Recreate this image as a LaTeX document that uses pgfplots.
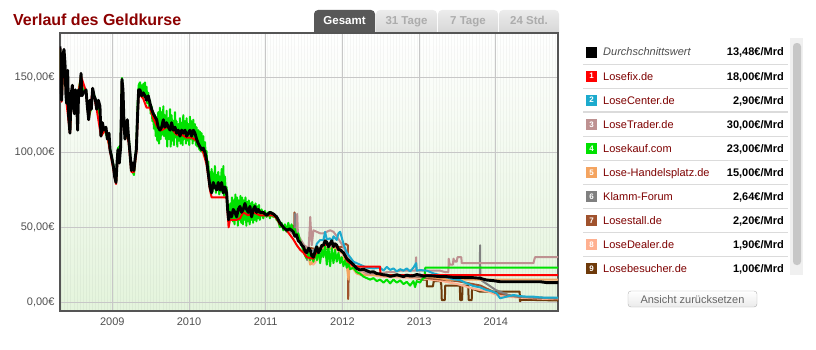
\documentclass[border=0pt]{standalone}
\usepackage{pgfplots}
\pgfplotsset{compat=1.18}
\usepackage{fontspec}
\setmainfont{Liberation Sans}
\definecolor{titlered}{RGB}{140,0,0}
\definecolor{namered}{RGB}{125,0,0}
\definecolor{framegray}{RGB}{85,85,85}
\definecolor{ticklab}{RGB}{80,80,80}
\definecolor{bggreen}{RGB}{228,244,220}
\definecolor{tabdark}{RGB}{88,88,88}
\definecolor{tabtop}{RGB}{236,236,236}
\definecolor{tabbot}{RGB}{214,214,214}
\definecolor{tabtext}{RGB}{172,172,172}
\definecolor{cfix}{RGB}{255,0,0}
\definecolor{ccenter}{RGB}{28,170,205}
\definecolor{ctrader}{RGB}{190,145,145}
\definecolor{ckauf}{RGB}{0,225,0}
\definecolor{chandel}{RGB}{244,164,96}
\definecolor{cklamm}{RGB}{128,128,128}
\definecolor{cstall}{RGB}{160,82,45}
\definecolor{cdealer}{RGB}{255,176,144}
\definecolor{cbesuch}{RGB}{110,58,10}
\begin{document}
\begin{tikzpicture}
\path[use as bounding box] (0pt,0pt) rectangle (816pt,349pt);
% title
\node[anchor=base west, font=\bfseries\fontsize{16}{19}\selectfont, text=titlered, inner sep=0pt] at (13pt,323.3pt) {Verlauf des Geldkurse};
% tabs
\fill[tabdark] (314pt,316pt) [rounded corners=4pt] -- (314pt,339pt) -- (375pt,339pt) [sharp corners] -- (375pt,316pt) -- cycle;
\shade[top color=tabtop, bottom color=tabbot] (376pt,316pt) [rounded corners=4pt] -- (376pt,339pt) -- (437pt,339pt) [sharp corners] -- (437pt,316pt) -- cycle;
\shade[top color=tabtop, bottom color=tabbot] (438pt,316pt) [rounded corners=4pt] -- (438pt,339pt) -- (498pt,339pt) [sharp corners] -- (498pt,316pt) -- cycle;
\shade[top color=tabtop, bottom color=tabbot] (499pt,316pt) [rounded corners=4pt] -- (499pt,339pt) -- (559pt,339pt) [sharp corners] -- (559pt,316pt) -- cycle;
\node[anchor=base, font=\bfseries\fontsize{11.5}{13}\selectfont, text=white, inner sep=0pt] at (344.5pt,324.5pt) {Gesamt};
\node[anchor=base, font=\bfseries\fontsize{11.5}{13}\selectfont, text=tabtext, inner sep=0pt] at (406.5pt,324.5pt) {31 Tage};
\node[anchor=base, font=\bfseries\fontsize{11.5}{13}\selectfont, text=tabtext, inner sep=0pt] at (468pt,324.5pt) {7 Tage};
\node[anchor=base, font=\bfseries\fontsize{11.5}{13}\selectfont, text=tabtext, inner sep=0pt] at (529pt,324.5pt) {24 Std.};

\begin{axis}[
  at={(60pt,38pt)}, anchor=south west, scale only axis,
  width=498pt, height=278pt,
  xmin=2008.318, xmax=2014.81, ymin=-6, ymax=180,
  xtick={2009,2010,2011,2012,2013,2014},
  xticklabels={2009,2010,2011,2012,2013,2014},
  ytick={0,50,100,150},
  yticklabels={{0,00€},{50,00€},{100,00€},{150,00€}},
  minor xtick={2008.34,2008.38,...,2014.8},
  grid=both,
  major grid style={draw=black!22, line width=0.8pt},
  minor grid style={draw=black, opacity=0.035, line width=0.8pt},
  major tick length=0pt, minor tick length=0pt,
  tick style={draw=none},
  tick label style={font=\fontsize{11}{13}\selectfont, text=ticklab},
  xticklabel style={yshift=-3pt},
  yticklabel style={xshift=-2pt},
  axis line style={draw=framegray, line width=2.6pt},
  axis background/.style={shade, top color=white, bottom color=bggreen},
  every axis plot/.append style={no marks, line join=round, line width=2pt},
]
% 9 Losebesucher
\addplot[cbesuch] coordinates {(2012.95,16) (2013.05,15) (2013.099,15) (2013.10,10.5) (2013.18,10.5) (2013.19,14) (2013.28,14) (2013.29,11) (2013.295,1.3) (2013.335,1.3) (2013.34,11) (2013.53,11) (2013.535,1.3) (2013.56,1.3) (2013.565,11) (2013.64,11) (2013.645,1.3) (2013.685,1.3) (2013.69,9) (2013.79,7) (2014.31,7) (2014.315,0.5) (2014.33,1.5) (2014.6,1.3) (2014.819,1.0)};
% 8 LoseDealer
\addplot[cdealer] coordinates {(2011.50,34) (2011.55,30) (2011.62,25) (2011.75,33) (2012.0,30) (2012.1,24) (2012.2,20) (2012.5,17) (2013.0,16) (2013.3,14) (2013.5,12) (2013.7,9) (2013.9,7) (2014.05,4) (2014.3,3) (2014.6,2.2) (2014.819,1.9)};
% 7 Losestall
\addplot[cstall] coordinates {(2011.30,49) (2011.37,47) (2011.375,60) (2011.38,47) (2011.50,37) (2011.70,35) (2012.00,37) (2012.04,39) (2012.07,38) (2012.075,2) (2012.085,30) (2012.15,24) (2012.30,20) (2012.60,18) (2013.00,17) (2013.10,16) (2013.50,14) (2013.80,11) (2014.00,6) (2014.30,3.5) (2014.819,2.2)};
% 6 Klamm-Forum
\addplot[cklamm] coordinates {(2011.30,49) (2011.38,44) (2011.383,59) (2011.39,44) (2011.50,37) (2011.54,28) (2011.56,34) (2011.90,37) (2012.00,33) (2012.10,26) (2012.30,20) (2012.60,18) (2013.00,17) (2013.60,16) (2013.790,16) (2013.794,38) (2013.798,15) (2014.00,8) (2014.20,4) (2014.50,3) (2014.819,2.64)};
% 5 Lose-Handelsplatz
\addplot[chandel] coordinates {(2011.45,40) (2011.55,33) (2011.579,25) (2011.62,27) (2011.66,33) (2011.75,36) (2011.90,36) (2012.013,32) (2012.056,25) (2012.078,15) (2012.09,22) (2012.10,26) (2012.143,22) (2012.187,19) (2012.25,18) (2012.578,18) (2012.838,18) (2013.012,18) (2013.099,17) (2013.273,16) (2013.360,15) (2014.819,15)};
% 3 LoseTrader
\addplot[ctrader] coordinates {(2011.30,48) (2011.40,44) (2011.41,59) (2011.42,45) (2011.50,38) (2011.56,36) (2011.58,57) (2011.60,38) (2011.622,48) (2011.709,46) (2011.752,46) (2011.839,48) (2011.883,47) (2011.926,44) (2012.013,37) (2012.056,32) (2012.143,25) (2012.230,22) (2012.317,19) (2012.491,19) (2012.578,20) (2012.665,20) (2012.752,21) (2012.925,21) (2012.955,21) (2012.960,30) (2012.965,21) (2013.099,21) (2013.273,21) (2013.340,20) (2013.381,20) (2013.385,29) (2013.40,25) (2013.44,25) (2013.447,29) (2013.47,27) (2013.49,27) (2013.50,30) (2013.55,30) (2013.555,26) (2014.49,26) (2014.51,30) (2014.819,30)};
% 4 Losekauf
\addplot[ckauf] coordinates {(2008.318,169) (2008.340,137) (2008.370,167) (2008.405,134) (2008.431,126) (2008.448,115) (2008.479,145) (2008.505,127) (2008.535,136) (2008.561,142) (2008.592,151) (2008.622,140) (2008.657,142) (2008.692,123) (2008.726,130) (2008.744,142) (2008.778,136) (2008.818,133) (2008.852,112) (2008.891,116) (2008.935,110) (2008.970,103) (2009.013,92) (2009.048,81) (2009.074,103) (2009.109,105) (2009.126,150) (2009.152,118) (2009.182,110) (2009.213,111) (2009.248,89) (2009.282,85) (2009.313,104) (2009.330,132) (2009.343,145)
(2009.361,147) (2009.370,140) (2009.382,145) (2009.390,139) (2009.404,146) (2009.412,137) (2009.426,147) (2009.439,137) (2009.447,144) (2009.455,133) (2009.469,140) (2009.478,131) (2009.491,135) (2009.500,126) (2009.513,131) (2009.522,121) (2009.534,127) (2009.542,116) (2009.556,125) (2009.565,111) (2009.578,123) (2009.586,108) (2009.599,127) (2009.609,106) (2009.621,130) (2009.630,109) (2009.643,127) (2009.655,112) (2009.665,131) (2009.674,111) (2009.686,125) (2009.699,109) (2009.708,128) (2009.716,104) (2009.730,123) (2009.739,109) (2009.752,129) (2009.761,104) (2009.773,125) (2009.786,108) (2009.795,121) (2009.803,105) (2009.817,127) (2009.830,110) (2009.838,121) (2009.847,104) (2009.860,119) (2009.873,108) (2009.882,123) (2009.890,106) (2009.904,120) (2009.917,105) (2009.925,125) (2009.934,109) (2009.947,121) (2009.960,106) (2009.969,123) (2009.977,108) (2009.990,119) (2010.003,105) (2010.012,124) (2010.020,109) (2010.034,121) (2010.047,106) (2010.056,122) (2010.064,108) (2010.077,119) (2010.090,105) (2010.099,117) (2010.108,104) (2010.121,115) (2010.134,102) (2010.142,114) (2010.151,101) (2010.164,113) (2010.177,100) (2010.186,111) (2010.195,98) (2010.208,107) (2010.221,95) (2010.229,101) (2010.238,89) (2010.251,94) (2010.264,81) (2010.273,87) (2010.282,75) (2010.295,89) (2010.308,74) (2010.316,86) (2010.325,76) (2010.338,91) (2010.351,73) (2010.360,85) (2010.369,75) (2010.381,87) (2010.394,72) (2010.403,84) (2010.412,74) (2010.425,89) (2010.438,73) (2010.447,91) (2010.456,71) (2010.468,84) (2010.481,72) (2010.490,77) (2010.503,65) (2010.516,58) (2010.527,55) (2010.538,66) (2010.549,56) (2010.560,70) (2010.571,54) (2010.582,68) (2010.593,52) (2010.604,72) (2010.615,55) (2010.626,70) (2010.637,51) (2010.648,68) (2010.659,55) (2010.670,71) (2010.681,53) (2010.692,70) (2010.703,52) (2010.714,68) (2010.725,55) (2010.736,70) (2010.747,51) (2010.758,67) (2010.769,54) (2010.780,68) (2010.791,52) (2010.802,66) (2010.813,55) (2010.824,67) (2010.835,53) (2010.846,65) (2010.857,55) (2010.868,66) (2010.879,54) (2010.890,64) (2010.901,56) (2010.912,65) (2010.923,55) (2010.946,62) (2010.968,56) (2010.990,61) (2011.011,57) (2011.033,60) (2011.055,56) (2011.077,60) (2011.098,57) (2011.120,58) (2011.142,55) (2011.164,54) (2011.185,50) (2011.207,53) (2011.229,48) (2011.250,52) (2011.272,47) (2011.294,53) (2011.315,48) (2011.337,52) (2011.359,46) (2011.380,49) (2011.402,44) (2011.424,46) (2011.446,41)
(2011.470,38) (2011.492,34) (2011.513,31) (2011.535,29) (2011.557,33) (2011.579,28) (2011.600,32) (2011.622,27) (2011.644,34) (2011.666,28) (2011.687,36) (2011.709,26) (2011.731,35) (2011.752,30) (2011.774,38) (2011.796,25) (2011.817,37) (2011.839,24) (2011.861,36) (2011.883,26) (2011.904,35) (2011.926,27) (2011.948,33) (2011.970,26) (2011.991,30) (2012.013,24) (2012.035,28) (2012.056,23) (2012.078,26) (2012.100,22) (2012.143,23) (2012.187,20) (2012.230,19) (2012.274,17) (2012.317,16) (2012.361,15) (2012.404,16) (2012.448,14) (2012.491,15) (2012.535,13) (2012.578,15) (2012.622,12.5) (2012.665,15) (2012.709,13) (2012.752,14.5) (2012.796,12) (2012.838,13.5) (2012.882,11) (2012.925,14) (2012.947,10) (2012.968,14) (2013.012,13) (2013.034,15) (2013.056,16) (2013.070,16) (2013.080,23) (2014.819,23)};
% 2 LoseCenter
\addplot[ccenter] coordinates {(2011.622,31) (2011.666,39) (2011.709,41.5) (2011.752,41.5) (2011.774,47) (2011.796,42) (2011.839,42.6) (2011.861,40) (2011.883,44) (2011.926,41.5) (2011.948,46) (2011.970,47) (2012.013,39) (2012.056,33) (2012.100,30) (2012.143,27) (2012.230,25) (2012.317,23) (2012.404,22.5) (2012.491,23) (2012.535,21) (2012.578,23.5) (2012.622,21.5) (2012.665,22.5) (2012.709,20.5) (2012.752,22) (2012.796,21) (2012.838,22.5) (2012.882,20.5) (2012.925,23) (2012.960,26) (2012.970,21) (2013.012,21.4) (2013.099,21) (2013.186,19.2) (2013.273,18) (2013.360,16.5) (2013.447,15.2) (2013.533,14.7) (2013.620,12.5) (2013.707,10.7) (2013.794,9.8) (2013.881,8) (2013.968,6.9) (2014.011,5.8) (2014.055,2.5) (2014.142,3.6) (2014.229,4.7) (2014.315,4) (2014.402,3.6) (2014.489,3.6) (2014.576,3.1) (2014.663,2.9) (2014.819,2.9)};
% 1 Losefix
\addplot[cfix] coordinates {(2008.318,170) (2008.340,134) (2008.370,167) (2008.405,132) (2008.448,113) (2008.479,144) (2008.535,134) (2008.561,141) (2008.592,151) (2008.657,141) (2008.692,122) (2008.744,142) (2008.796,129) (2008.852,111) (2008.917,116) (2008.970,101) (2009.048,79) (2009.074,100) (2009.109,102) (2009.126,147) (2009.152,118) (2009.213,107) (2009.248,87) (2009.282,87) (2009.313,100) (2009.343,140) (2009.404,136) (2009.447,130) (2009.491,130) (2009.534,123) (2009.578,118) (2009.621,115) (2009.643,115) (2009.708,117) (2009.773,116) (2009.838,112) (2009.904,112) (2009.969,110) (2010.034,110) (2010.099,108) (2010.142,104) (2010.186,100) (2010.229,92) (2010.251,84) (2010.273,75) (2010.295,70) (2010.360,70) (2010.447,70) (2010.490,70) (2010.503,60) (2010.516,50) (2010.533,55) (2010.620,55) (2010.664,56) (2010.707,60) (2010.772,58) (2010.838,60) (2010.924,58) (2011.011,58) (2011.098,58) (2011.142,56) (2011.185,52) (2011.272,48) (2011.359,42) (2011.405,38) (2011.448,35) (2011.492,33) (2011.535,30) (2011.622,29) (2011.666,34) (2011.752,38) (2011.839,39) (2011.926,37) (2012.013,33) (2012.056,28) (2012.143,24) (2012.230,23.7) (2012.491,23.7) (2012.495,18) (2014.819,18)};
% Durchschnittswert
\addplot[black, line width=2.9pt] coordinates {(2008.318,171) (2008.327,153) (2008.340,135) (2008.353,164) (2008.370,169) (2008.383,160) (2008.396,138) (2008.405,133) (2008.418,155) (2008.431,124) (2008.448,113) (2008.461,138) (2008.479,145) (2008.492,133) (2008.505,126) (2008.518,142) (2008.535,135) (2008.548,115) (2008.561,142) (2008.579,138) (2008.592,153) (2008.605,138) (2008.622,140) (2008.644,141) (2008.657,142) (2008.674,131) (2008.692,122) (2008.709,135) (2008.726,129) (2008.744,143) (2008.761,138) (2008.778,136) (2008.796,129) (2008.818,135) (2008.839,131) (2008.852,111) (2008.870,120) (2008.891,115) (2008.917,117) (2008.935,109) (2008.957,113) (2008.970,102) (2008.991,97) (2009.013,91) (2009.030,84) (2009.048,80) (2009.061,93) (2009.074,102) (2009.091,93) (2009.109,104) (2009.126,149) (2009.139,142) (2009.152,120) (2009.165,109) (2009.182,115) (2009.195,122) (2009.213,109) (2009.230,100) (2009.248,88) (2009.265,93) (2009.282,88) (2009.300,97) (2009.313,102) (2009.330,126) (2009.343,142) (2009.361,142) (2009.382,138) (2009.404,140) (2009.426,138) (2009.447,135) (2009.469,138) (2009.491,133) (2009.513,129) (2009.534,126) (2009.556,124) (2009.578,122) (2009.599,117) (2009.621,115) (2009.643,117) (2009.665,122) (2009.686,117) (2009.708,120) (2009.730,117) (2009.752,115) (2009.773,120) (2009.795,115) (2009.817,117) (2009.838,113) (2009.860,115) (2009.882,111) (2009.904,115) (2009.925,113) (2009.947,115) (2009.969,111) (2009.990,113) (2010.012,115) (2010.034,111) (2010.056,115) (2010.077,113) (2010.099,109) (2010.121,106) (2010.142,104) (2010.164,102) (2010.186,103) (2010.208,100) (2010.229,95) (2010.251,86) (2010.273,77) (2010.295,73) (2010.316,80) (2010.338,77) (2010.360,75) (2010.381,80) (2010.403,75) (2010.425,80) (2010.447,73) (2010.468,77) (2010.490,73) (2010.503,62) (2010.516,55) (2010.533,60) (2010.555,57) (2010.577,62) (2010.599,60) (2010.620,57) (2010.642,62) (2010.664,64) (2010.685,60) (2010.707,62) (2010.729,66) (2010.751,62) (2010.772,60) (2010.794,64) (2010.816,57) (2010.838,62) (2010.859,64) (2010.881,60) (2010.903,62) (2010.924,60) (2010.968,60) (2011.011,58) (2011.055,60) (2011.098,59) (2011.142,57) (2011.185,53) (2011.229,50) (2011.272,48) (2011.315,49) (2011.359,47) (2011.380,44) (2011.402,45) (2011.424,41) (2011.448,40) (2011.470,38) (2011.492,37) (2011.513,34) (2011.535,33) (2011.557,36) (2011.579,35) (2011.600,31) (2011.622,30) (2011.644,34) (2011.666,37) (2011.687,33) (2011.709,35) (2011.731,38) (2011.752,38) (2011.774,41) (2011.796,40) (2011.817,37) (2011.839,39) (2011.861,41) (2011.883,37) (2011.904,39) (2011.926,38) (2011.948,35) (2011.970,35) (2011.991,34) (2012.013,33) (2012.035,31) (2012.056,29) (2012.078,28) (2012.100,27) (2012.143,25) (2012.187,22.5) (2012.230,21.4) (2012.274,22) (2012.317,21) (2012.361,20) (2012.404,20.3) (2012.448,19) (2012.491,18.8) (2012.535,18.2) (2012.578,18) (2012.622,17.2) (2012.665,17.6) (2012.709,18.3) (2012.752,17.6) (2012.796,17) (2012.838,18) (2012.882,17.4) (2012.925,17.6) (2012.968,18.4) (2013.012,18) (2013.056,17.3) (2013.099,17.6) (2013.186,17.4) (2013.273,17) (2013.360,17) (2013.447,16.5) (2013.533,16.5) (2013.620,16.3) (2013.707,16.3) (2013.794,15.9) (2013.881,14.7) (2013.968,14.3) (2014.055,13.6) (2014.229,13.6) (2014.402,13.6) (2014.576,13.6) (2014.663,13) (2014.819,13)};
\end{axis}

% legend panel
\fill[black!6] (790pt,74pt) rectangle (803pt,311pt);
\fill[black!22, rounded corners=3.5pt] (793pt,84pt) rectangle (801pt,306pt);
\foreach \yy in {285,260.9,212.7,188.6,164.5,140.4,116.3,92.2}
  \draw[black!14, line width=1pt] (583pt,\yy pt) -- (788pt,\yy pt);
\draw[black!14, line width=2.5pt] (583pt,236.8pt) -- (788pt,236.8pt);
\def\sq#1#2#3{%
  \fill[#1] (586pt,#2pt-5.5pt) rectangle (597pt,#2pt+5.5pt);
  \node[font=\bfseries\fontsize{8}{9}\selectfont, text=white, inner sep=0pt] at (591.5pt,#2pt) {#3};}
\sq{black}{297}{}
\sq{cfix}{272.9}{1}
\sq{ccenter}{248.8}{2}
\sq{ctrader}{224.7}{3}
\sq{ckauf}{200.6}{4}
\sq{chandel}{176.5}{5}
\sq{cklamm}{152.4}{6}
\sq{cstall}{128.3}{7}
\sq{cdealer}{104.2}{8}
\sq{cbesuch}{80.1}{9}
\begin{scope}[every node/.style={inner sep=0pt, font=\fontsize{11}{13}\selectfont}]
\node[anchor=base west, text=black!70, font=\itshape\fontsize{11}{13}\selectfont] at (603pt,293.1pt) {Durchschnittswert};
\node[anchor=base west, text=namered] at (603pt,269.0pt) {Losefix.de};
\node[anchor=base west, text=namered] at (603pt,244.9pt) {LoseCenter.de};
\node[anchor=base west, text=namered] at (603pt,220.8pt) {LoseTrader.de};
\node[anchor=base west, text=namered] at (603pt,196.7pt) {Losekauf.com};
\node[anchor=base west, text=namered] at (603pt,172.6pt) {Lose-Handelsplatz.de};
\node[anchor=base west, text=namered] at (603pt,148.5pt) {Klamm-Forum};
\node[anchor=base west, text=namered] at (603pt,124.4pt) {Losestall.de};
\node[anchor=base west, text=namered] at (603pt,100.3pt) {LoseDealer.de};
\node[anchor=base west, text=namered] at (603pt,76.2pt) {Losebesucher.de};
\node[anchor=base east, font=\bfseries\fontsize{11}{13}\selectfont] at (784pt,293.1pt) {13,48€/Mrd};
\node[anchor=base east, font=\bfseries\fontsize{11}{13}\selectfont] at (784pt,269.0pt) {18,00€/Mrd};
\node[anchor=base east, font=\bfseries\fontsize{11}{13}\selectfont] at (784pt,244.9pt) {2,90€/Mrd};
\node[anchor=base east, font=\bfseries\fontsize{11}{13}\selectfont] at (784pt,220.8pt) {30,00€/Mrd};
\node[anchor=base east, font=\bfseries\fontsize{11}{13}\selectfont] at (784pt,196.7pt) {23,00€/Mrd};
\node[anchor=base east, font=\bfseries\fontsize{11}{13}\selectfont] at (784pt,172.6pt) {15,00€/Mrd};
\node[anchor=base east, font=\bfseries\fontsize{11}{13}\selectfont] at (784pt,148.5pt) {2,64€/Mrd};
\node[anchor=base east, font=\bfseries\fontsize{11}{13}\selectfont] at (784pt,124.4pt) {2,20€/Mrd};
\node[anchor=base east, font=\bfseries\fontsize{11}{13}\selectfont] at (784pt,100.3pt) {1,90€/Mrd};
\node[anchor=base east, font=\bfseries\fontsize{11}{13}\selectfont] at (784pt,76.2pt) {1,00€/Mrd};
\end{scope}
% reset button
\shade[top color=white, bottom color=black!8, draw=black!30, rounded corners=3pt] (628pt,42pt) rectangle (757pt,58pt);
\node[anchor=base, inner sep=0pt, text=black!60, font=\fontsize{11}{13}\selectfont] at (692.5pt,46pt) {Ansicht zurücksetzen};
\end{tikzpicture}
\end{document}
